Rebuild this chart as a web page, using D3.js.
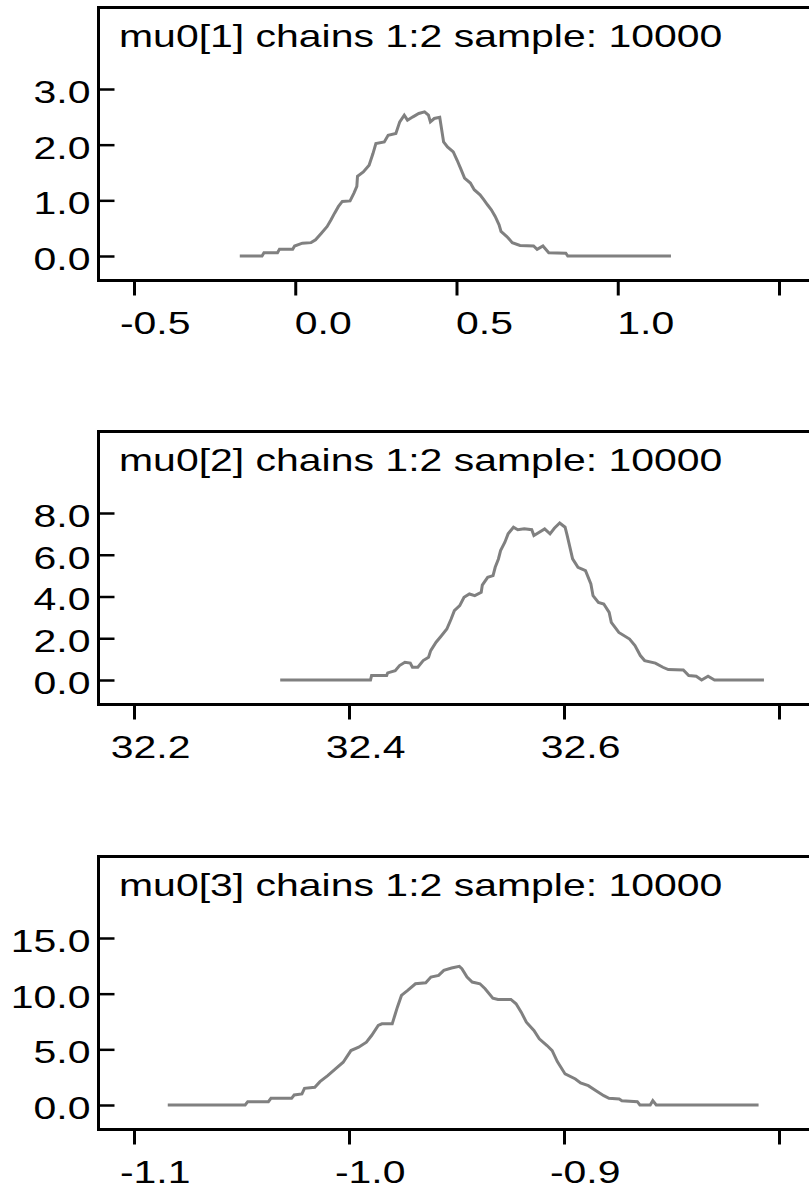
<!DOCTYPE html>
<html>
<head>
<meta charset="utf-8">
<script src="https://cdn.jsdelivr.net/npm/d3@7"></script>
<style>
    body { margin: 0; background: #fff; }
    svg text { font-family: "Liberation Sans", Arial, sans-serif; font-size: 32px; fill: #000; }
</style>
</head>
<body>
<div id="chart"></div>
<script>
// posterior density of each node as [value, density]
const mu0_1 = [[-0.172,0],[-0.103,0],[-0.097,0.06],[-0.055,0.06],[-0.049,0.12],[-0.008,0.12],[-0.002,0.18],[0.022,0.23],[0.049,0.24],[0.063,0.29],[0.081,0.41],[0.099,0.53],[0.111,0.65],[0.122,0.77],[0.134,0.89],[0.146,0.98],[0.170,0.99],[0.182,1.13],[0.191,1.25],[0.193,1.43],[0.211,1.51],[0.229,1.63],[0.241,1.84],[0.250,2.02],[0.276,2.05],[0.288,2.17],[0.312,2.20],[0.324,2.41],[0.338,2.53],[0.348,2.44],[0.365,2.50],[0.383,2.56],[0.401,2.59],[0.413,2.53],[0.419,2.41],[0.431,2.47],[0.448,2.49],[0.460,2.05],[0.472,1.96],[0.490,1.87],[0.502,1.72],[0.513,1.57],[0.525,1.40],[0.543,1.31],[0.555,1.19],[0.573,1.10],[0.585,1.01],[0.596,0.92],[0.608,0.83],[0.620,0.71],[0.632,0.56],[0.638,0.44],[0.656,0.35],[0.673,0.24],[0.697,0.19],[0.739,0.18],[0.750,0.12],[0.768,0.18],[0.786,0.06],[0.839,0.05],[0.845,0],[1.165,0]];

const mu0_2 = [[32.336,0],[32.420,0],[32.421,0.21],[32.435,0.21],[32.436,0.34],[32.443,0.45],[32.447,0.69],[32.452,0.85],[32.457,0.81],[32.459,0.61],[32.464,0.61],[32.469,0.93],[32.474,1.09],[32.476,1.41],[32.481,1.81],[32.486,2.12],[32.491,2.44],[32.495,2.92],[32.498,3.32],[32.503,3.56],[32.507,3.96],[32.512,4.12],[32.517,4.04],[32.523,4.20],[32.524,4.55],[32.529,4.92],[32.534,5.00],[32.536,5.40],[32.539,5.80],[32.541,6.20],[32.545,6.60],[32.548,7.00],[32.553,7.32],[32.557,7.20],[32.563,7.24],[32.570,7.20],[32.572,6.92],[32.577,7.08],[32.582,7.24],[32.587,7.00],[32.591,7.27],[32.596,7.52],[32.601,7.32],[32.603,6.92],[32.608,5.80],[32.613,5.40],[32.620,5.24],[32.625,4.60],[32.627,4.04],[32.632,3.72],[32.637,3.64],[32.642,3.24],[32.644,2.76],[32.651,2.28],[32.661,1.96],[32.666,1.65],[32.671,1.17],[32.675,0.93],[32.685,0.81],[32.692,0.61],[32.697,0.50],[32.711,0.48],[32.716,0.21],[32.723,0.18],[32.728,0],[32.734,0.18],[32.740,0],[32.786,0]];

const mu0_3 = [[-1.0843,0],[-1.0483,0],[-1.0471,0.30],[-1.0375,0.30],[-1.0363,0.60],[-1.0267,0.60],[-1.0255,0.90],[-1.0219,0.99],[-1.0207,1.50],[-1.0159,1.59],[-1.0135,2.10],[-1.0099,2.64],[-1.0063,3.24],[-1.0027,3.84],[-0.9991,4.89],[-0.9955,5.19],[-0.9919,5.64],[-0.9895,6.24],[-0.9864,7.14],[-0.9847,7.29],[-0.9799,7.29],[-0.9787,8.04],[-0.9775,8.79],[-0.9756,9.84],[-0.9727,10.29],[-0.9691,10.89],[-0.9643,10.98],[-0.9619,11.49],[-0.9583,11.64],[-0.9559,12.09],[-0.9523,12.30],[-0.9487,12.45],[-0.9475,12.24],[-0.9451,11.49],[-0.9427,11.04],[-0.9391,10.89],[-0.9367,10.44],[-0.9331,9.60],[-0.9307,9.48],[-0.9247,9.48],[-0.9223,9.09],[-0.9199,8.34],[-0.9175,7.44],[-0.9140,6.69],[-0.9115,5.94],[-0.9079,5.34],[-0.9055,4.89],[-0.9031,3.90],[-0.8995,2.79],[-0.8947,2.34],[-0.8923,1.98],[-0.8887,1.74],[-0.8851,1.29],[-0.8815,0.84],[-0.8791,0.60],[-0.8743,0.54],[-0.8731,0.39],[-0.8659,0.30],[-0.8647,0],[-0.8599,0],[-0.8587,0.39],[-0.8571,0],[-0.8095,0]];

const titles = [
    "mu0[1] chains 1:2 sample: 10000",
    "mu0[2] chains 1:2 sample: 10000",
    "mu0[3] chains 1:2 sample: 10000"
];
const xTicks = [[-0.5, 0, 0.5, 1.0, 1.5], [32.2, 32.4, 32.6, 32.8], [-1.1, -1.0, -0.9, -0.8]];
const yTicks = [[0, 1, 2, 3], [0, 2, 4, 6, 8], [0, 5, 10, 15]];
const densities = [mu0_1, mu0_2, mu0_3];

const width = 809, height = 1192;
const stretch = 1.28;          // the text in the source is drawn wider than normal
const frameLeft = 98.5;
const panelTops = [7.5, 431.5, 856.5];
const panelHeight = 273;

// plain hyphen for negatives, like the source
const fmt = d3.formatLocale({decimal: ".", thousands: ",", grouping: [3], currency: ["", ""], minus: "-"}).format(".1f");

const svg = d3.select("#chart").append("svg")
    .attr("width", width)
    .attr("height", height);

function drawPanel(i) {
    let top = panelTops[i];
    let bottom = top + panelHeight;
    let xt = xTicks[i], yt = yTicks[i];

    let x = d3.scaleLinear()
        .domain([xt[0], xt[xt.length - 1]])
        .range([134, 779]);

    let y = d3.scaleLinear()
        .domain([0, yt[yt.length - 1]])
        .range([top + 248.5, top + 81.5]);

    let g = svg.append("g");

    // frame, its right side runs off the picture
    g.append("rect")
        .attr("x", frameLeft)
        .attr("y", top)
        .attr("width", 800)
        .attr("height", panelHeight)
        .attr("fill", "none")
        .attr("stroke", "#000")
        .attr("stroke-width", 3);

    g.append("text")
        .attr("transform", "translate(119," + (top + 39.5) + ") scale(" + stretch + ",1)")
        .text(titles[i]);

    let yAxis = g.append("g")
        .attr("transform", "translate(" + frameLeft + ",0)")
        .call(d3.axisLeft(y)
            .tickValues(yt)
            .tickSizeInner(-16)
            .tickSizeOuter(0)
            .tickFormat(fmt));
    yAxis.select(".domain").remove();
    yAxis.selectAll(".tick line").attr("stroke", "#000").attr("stroke-width", 2.5);
    yAxis.selectAll(".tick text")
        .attr("x", -8 / stretch)
        .attr("dy", "0.42em")
        .attr("text-anchor", "end")
        .attr("transform", "scale(" + stretch + ",1)");

    let xAxis = g.append("g")
        .attr("transform", "translate(0," + bottom + ")")
        .call(d3.axisBottom(x)
            .tickValues(xt)
            .tickSizeInner(15)
            .tickSizeOuter(0)
            .tickFormat((d, k) => k === xt.length - 1 ? "" : fmt(d)));
    xAxis.select(".domain").remove();
    xAxis.selectAll(".tick line").attr("stroke", "#000").attr("stroke-width", 3);
    xAxis.selectAll(".tick text")
        .attr("x", 56 / stretch)
        .attr("y", 42)
        .attr("dy", "0.36em")
        .attr("text-anchor", "end")
        .attr("transform", "scale(" + stretch + ",1)");

    let line = d3.line()
        .x(d => x(d[0]))
        .y(d => y(d[1]))
        .curve(d3.curveLinear);

    g.append("path")
        .datum(densities[i])
        .attr("d", line)
        .attr("fill", "none")
        .attr("stroke", "#808080")
        .attr("stroke-width", 3);
}

for (let i = 0; i < 3; i++) {
    drawPanel(i);
}
</script>
</body>
</html>
